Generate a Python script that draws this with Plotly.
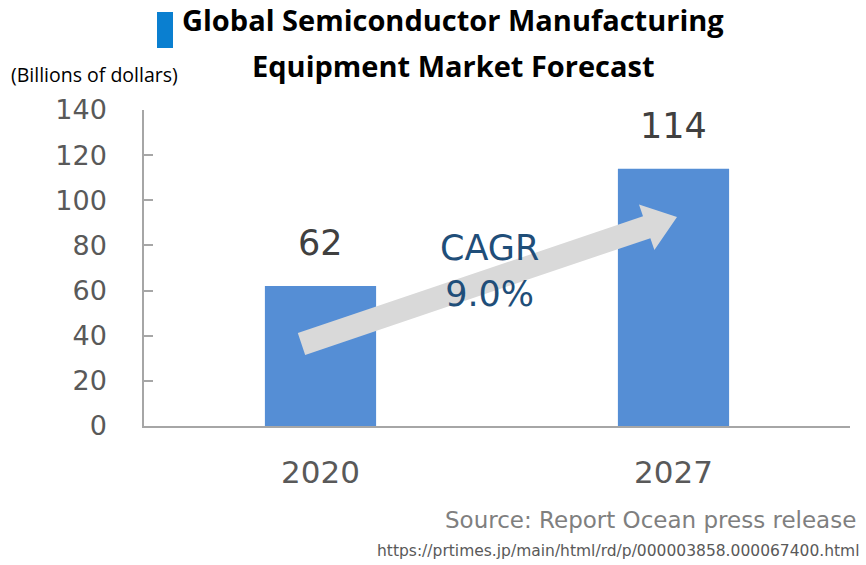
import math
import plotly.graph_objects as go

years = ["2020", "2027"]
values = [62, 114]
y_ticks = [0, 20, 40, 60, 80, 100, 120, 140]
title_lines = ["Global Semiconductor Manufacturing", "Equipment Market Forecast"]
unit_label = "(Billions of dollars)"
cagr_label = "CAGR<br>9.0%"
source_label = "Source: Report Ocean press release"
url_label = "https://prtimes.jp/main/html/rd/p/000003858.000067400.html"

W, H = 866, 565
L, R, T, B = 144, 16, 110, 139
PW, PH = W - L - R, H - T - B


def px(x):
    return (x - L) / PW


def py(y):
    return (H - B - y) / PH


fig = go.Figure()
fig.add_trace(go.Bar(
    x=years, y=values, marker=dict(color="#558ed5", line=dict(width=0)),
    showlegend=False, hoverinfo="x+y",
))

# value labels
for i, v in enumerate(values):
    fig.add_annotation(x=i, y=v, xref="x", yref="y", text=str(v), showarrow=False,
                       xanchor="center", yanchor="middle",
                       yshift=43, font=dict(family="DejaVu Sans", size=35, color="#404040"))

# arrow (decoration) built in pixel space
tail = (301.5, 344.0)
tip = (677.0, 217.0)
dx, dy = tip[0] - tail[0], tip[1] - tail[1]
ln = math.hypot(dx, dy)
ux, uy = dx / ln, dy / ln
nx, ny = -uy, ux
hw, headw, headl = 11.5, 24.0, 32.0
bx, by = tail[0] + ux * (ln - headl), tail[1] + uy * (ln - headl)
pts = [
    (tail[0] + nx * hw, tail[1] + ny * hw),
    (bx + nx * hw, by + ny * hw),
    (bx + nx * headw, by + ny * headw),
    tip,
    (bx - nx * headw, by - ny * headw),
    (bx - nx * hw, by - ny * hw),
    (tail[0] - nx * hw, tail[1] - ny * hw),
]
path = "M " + " L ".join(f"{px(a):.5f},{py(b):.5f}" for a, b in pts) + " Z"
fig.add_shape(type="path", path=path, xref="paper", yref="paper",
              fillcolor="#d9d9d9", line=dict(width=0), layer="above")


def note(x, y, text, size, color, family, xanchor="center"):
    fig.add_annotation(x=px(x), y=py(y), xref="paper", yref="paper", text=text,
                       xanchor=xanchor, yanchor="middle", showarrow=False,
                       font=dict(family=family, size=size, color=color))


note(489, 271, cagr_label, 35, "#1f4e79", "DejaVu Sans")

# title
fig.add_shape(type="rect", xref="paper", yref="paper", x0=px(157), x1=px(173), y0=py(48), y1=py(12),
              fillcolor="#0a7fd0", line=dict(width=0))
note(453, 19, "<b>" + title_lines[0] + "</b>", 29, "#000000", "Open Sans")
note(453, 66, "<b>" + title_lines[1] + "</b>", 29, "#000000", "Open Sans")
note(94, 74, unit_label, 19.5, "#000000", "Open Sans")

note(858, 520, source_label, 23, "#7f7f7f", "DejaVu Sans", xanchor="right")
note(862, 551, url_label, 15.5, "#595959", "DejaVu Sans", xanchor="right")

fig.update_layout(
    width=W, height=H, margin=dict(l=L, r=R, t=T, b=B, pad=0),
    paper_bgcolor="white", plot_bgcolor="white", bargap=0.685,
    xaxis=dict(type="category", range=[-0.5, 1.5], showline=True, linecolor="#a6a6a6", linewidth=1.5,
               ticks="", showgrid=False, tickfont=dict(family="DejaVu Sans", size=31, color="#595959"),
               ticklabelstandoff=18),
    yaxis=dict(range=[0, 140], tickvals=y_ticks, showline=True, linecolor="#a6a6a6", linewidth=1.5,
               ticks="inside", ticklen=9, tickcolor="#a6a6a6", tickwidth=1.5, showgrid=False,
               zeroline=False, tickfont=dict(family="DejaVu Sans", size=27, color="#595959"),
               ticklabelstandoff=30),
)

fig.write_html("out.html")
